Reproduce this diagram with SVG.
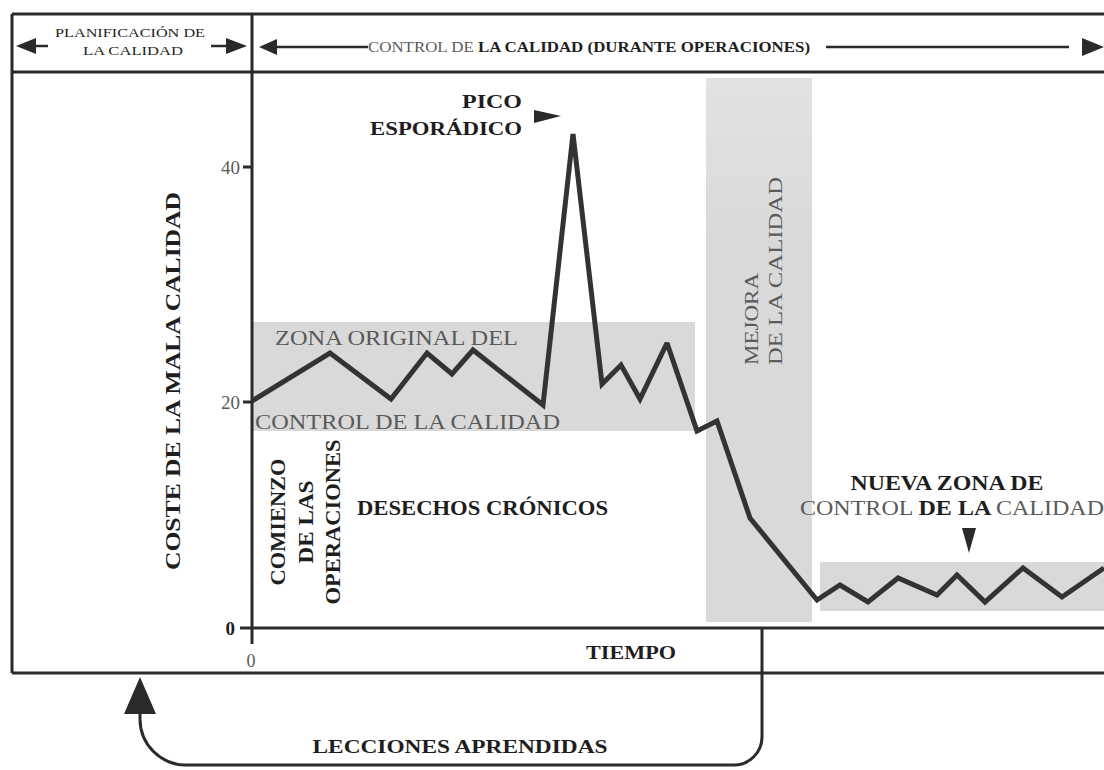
<svg xmlns="http://www.w3.org/2000/svg" width="1104" height="770" viewBox="0 0 1104 770">
<defs>
  <linearGradient id="bandFade" x1="0" y1="0" x2="0" y2="1">
    <stop offset="0" stop-color="#e2e2e2"/>
    <stop offset="0.15" stop-color="#dedede"/>
    <stop offset="0.3" stop-color="#d9d9d9"/>
    <stop offset="1" stop-color="#d9d9d9"/>
  </linearGradient>
</defs>
<style>
.frame{fill:none;stroke:#2a2a2a;stroke-width:3}
.ax{fill:none;stroke:#2a2a2a;stroke-width:3}
.t{font-family:"Liberation Serif","Times New Roman",serif;fill:#1e1e1e}
.b{font-weight:bold}
.g{fill:#5a5a5a;font-weight:normal}
.zone{fill:#d9d9d9}
.hd{fill:none;stroke:#2a2a2a;stroke-width:2.5}
.ah{fill:#2a2a2a}
</style>
<rect width="1104" height="770" fill="#ffffff"/>

<g id="zones">
  <rect class="zone" x="252" y="322" width="443" height="109"/>
  <rect x="706" y="78" width="106" height="544" fill="url(#bandFade)"/>
  <rect class="zone" x="820" y="562" width="284" height="49"/>
</g>

<g id="frame">
  <line class="frame" x1="12" y1="14" x2="1104" y2="14"/>
  <line class="frame" x1="12" y1="72" x2="1104" y2="72"/>
  <line class="frame" x1="12" y1="673" x2="1104" y2="673"/>
  <line class="frame" x1="12" y1="14" x2="12" y2="673"/>
</g>

<g id="header-planificacion">
  <text class="t" x="130" y="37" font-size="12" text-anchor="middle" textLength="150" lengthAdjust="spacingAndGlyphs">PLANIFICACIÓN DE</text>
  <text class="t" x="133" y="55" font-size="12" text-anchor="middle" textLength="100" lengthAdjust="spacingAndGlyphs">LA CALIDAD</text>
  <line class="hd" x1="34" y1="46" x2="48" y2="46"/>
  <polygon class="ah" points="16,46 36,38 36,54"/>
  <line class="hd" x1="211" y1="46" x2="227" y2="46"/>
  <polygon class="ah" points="247,46 226,38 226,54"/>
</g>

<g id="header-control">
  <polygon class="ah" points="259,47 277,39 277,55"/>
  <line class="hd" x1="275" y1="47" x2="368" y2="47"/>
  <text class="t" x="368" y="52" font-size="14" textLength="442" lengthAdjust="spacingAndGlyphs"><tspan class="g">CONTROL DE </tspan><tspan class="b">LA  CALIDAD (DURANTE OPERACIONES)</tspan></text>
  <line class="hd" x1="826" y1="47" x2="1069" y2="47"/>
  <polygon class="ah" points="1104,47 1082,38 1082,56"/>
</g>

<g id="axes">
  <line class="ax" x1="252" y1="14" x2="252" y2="644"/>
  <line class="ax" x1="240" y1="628" x2="1104" y2="628"/>
  <line class="ax" x1="243" y1="167" x2="252" y2="167"/>
  <line class="ax" x1="243" y1="402" x2="252" y2="402"/>
  <text class="t g" x="240" y="174" font-size="19" text-anchor="end">40</text>
  <text class="t g" x="240" y="409" font-size="19" text-anchor="end">20</text>
  <text class="t b" x="235" y="635" font-size="19" text-anchor="end">0</text>
  <text class="t g" x="251" y="667" font-size="18" text-anchor="middle">0</text>
  <text class="t b" x="631" y="659" font-size="18" text-anchor="middle" textLength="90" lengthAdjust="spacingAndGlyphs">TIEMPO</text>
  <text class="t b" transform="translate(180,381) rotate(-90)" font-size="22" text-anchor="middle" textLength="378" lengthAdjust="spacingAndGlyphs">COSTE DE LA MALA CALIDAD</text>
</g>

<g id="series">
  <polyline fill="none" stroke="#333333" stroke-width="5" stroke-linejoin="miter" stroke-miterlimit="2.5" points="252,401 330,353 391,399 427,353 452,374 473,350 543,405 573,134 602,384 621,365 640,399 667,343 697,431 717,421 750,518 817,600 840,585 868,602 898,578 937,595 957,575 985,602 1023,568 1062,597 1104,568"/>
</g>

<g id="label-zona-original">
  <text class="t g" x="275" y="345" font-size="21" textLength="243" lengthAdjust="spacingAndGlyphs">ZONA ORIGINAL DEL</text>
  <text class="t g" x="255" y="429" font-size="21" textLength="305" lengthAdjust="spacingAndGlyphs">CONTROL DE LA CALIDAD</text>
</g>

<g id="label-pico">
  <text class="t b" x="522" y="108" font-size="19" text-anchor="end" textLength="60" lengthAdjust="spacingAndGlyphs">PICO</text>
  <text class="t b" x="522" y="135" font-size="19" text-anchor="end" textLength="152" lengthAdjust="spacingAndGlyphs">ESPORÁDICO</text>
  <polygon class="ah" points="561,116 534,110 534,123"/>
</g>

<g id="label-comienzo">
  <text class="t b" transform="translate(285,522) rotate(-90)" font-size="21" text-anchor="middle" textLength="127" lengthAdjust="spacingAndGlyphs">COMIENZO</text>
  <text class="t b" transform="translate(313,522) rotate(-90)" font-size="21" text-anchor="middle" textLength="83" lengthAdjust="spacingAndGlyphs">DE LAS</text>
  <text class="t b" transform="translate(340,522) rotate(-90)" font-size="21" text-anchor="middle" textLength="165" lengthAdjust="spacingAndGlyphs">OPERACIONES</text>
</g>

<g id="label-desechos">
  <text class="t b" x="357" y="515" font-size="20" textLength="251" lengthAdjust="spacingAndGlyphs">DESECHOS CRÓNICOS</text>
</g>

<g id="label-mejora">
  <text class="t g" transform="translate(758,365) rotate(-90)" font-size="19" textLength="92" lengthAdjust="spacingAndGlyphs" fill="#4a4a4a">MEJORA</text>
  <text class="t g" transform="translate(782,365) rotate(-90)" font-size="19" textLength="188" lengthAdjust="spacingAndGlyphs" fill="#4a4a4a">DE LA CALIDAD</text>
</g>

<g id="label-nueva-zona">
  <text class="t b" x="947" y="490" font-size="20" text-anchor="middle" textLength="193" lengthAdjust="spacingAndGlyphs">NUEVA ZONA DE</text>
  <text class="t" x="800" y="515" font-size="21" textLength="304" lengthAdjust="spacingAndGlyphs"><tspan class="g">CONTROL </tspan><tspan class="b">DE LA </tspan><tspan class="g">CALIDAD</tspan></text>
  <polygon class="ah" points="962,528 976,528 969,553"/>
</g>

<g id="connectors">
  <path fill="none" stroke="#2a2a2a" stroke-width="3" d="M762,628 V737 A28,28 0 0 1 734,765 H186 A46,46 0 0 1 140,719 V712"/>
  <polygon class="ah" points="140,677 124,714 156,714"/>
  <text class="t b" x="460" y="753" font-size="19" text-anchor="middle" textLength="295" lengthAdjust="spacingAndGlyphs">LECCIONES APRENDIDAS</text>
</g>
</svg>
